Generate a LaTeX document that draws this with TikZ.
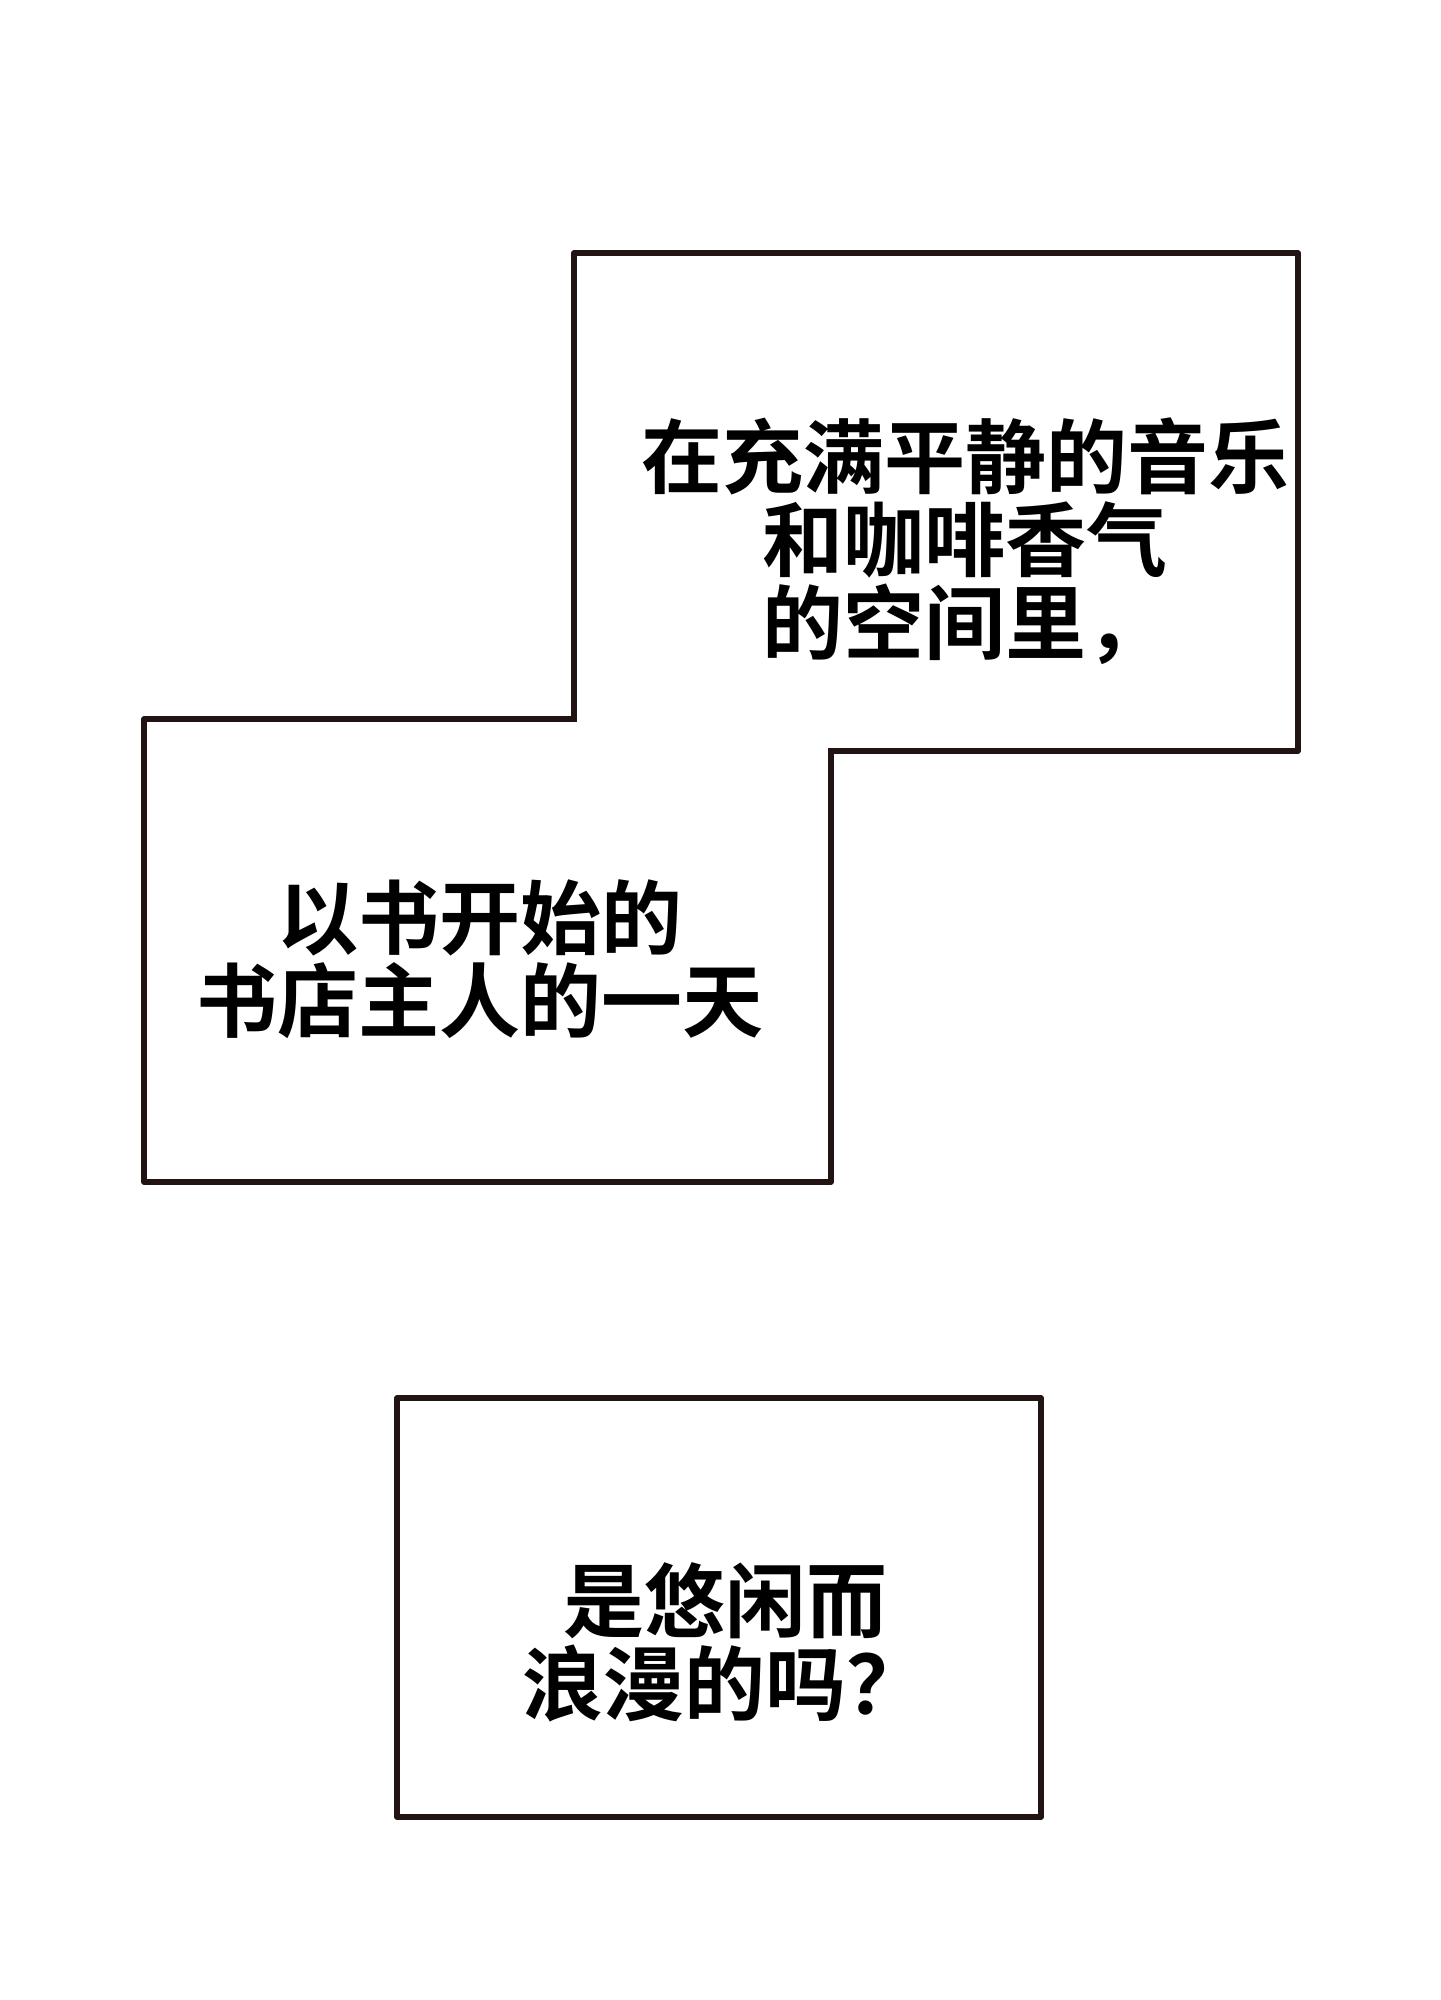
\documentclass[tikz,border=0pt]{standalone}
\usepackage{fontspec}
\newfontfamily\cjk{Noto Sans CJK SC}[BoldFont={Noto Sans CJK SC Bold}]
\definecolor{ink}{RGB}{35,20,20}
\begin{document}
\begin{tikzpicture}[x=0.5pt,y=-0.5pt,
  panel/.style={draw=ink,line width=2.6pt,line join=round},
  cover/.style={fill=white,draw=none},
  caption/.style={font=\cjk\bfseries\fontsize{40.5pt}{41.5pt}\selectfont,align=center,text=black,inner sep=0pt}]
\useasboundingbox[fill=white] (0,0) rectangle (1440,2000);
% panel outlines
\draw[panel] (574,253) rectangle (1298,751);
\draw[panel] (144,719) rectangle (831,1182);
% merge the two upper panels into one outline
\fill[cover] (577,256) rectangle (1295,748);
\fill[cover] (147,722) rectangle (828,1179);
\draw[panel] (397,1398) rectangle (1041,1817);
% texts
\node[caption] (t1) at (965,541) {在充满平静的音乐\\和咖啡香气\\的空间里，};
\node[caption] (t2) at (480,959) {以书开始的\\书店主人的一天};
\node[caption] (t3) at (725,1642) {是悠闲而\\浪漫的吗？};
\end{tikzpicture}
\end{document}
